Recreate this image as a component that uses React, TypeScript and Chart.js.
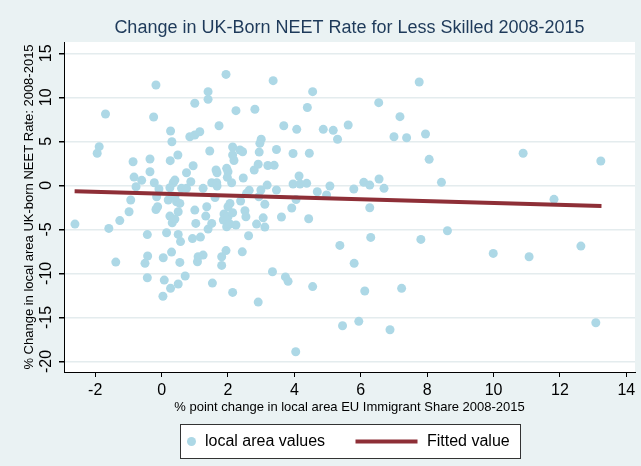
import React, { useEffect, useRef } from "react";
import { Chart, registerables } from "chart.js";

Chart.register(...registerables);

const TITLE = "Change in UK-Born NEET Rate for Less Skilled 2008-2015";
const X_TITLE = "% point change in local area EU Immigrant Share 2008-2015";
const Y_TITLE = "% Change in local area UK-born NEET Rate: 2008-2015";
const SERIES_POINTS = "local area values";
const SERIES_FIT = "Fitted value";

const X_TICKS = [-2, 0, 2, 4, 6, 8, 10, 12, 14];
const Y_TICKS = [-20, -15, -10, -5, 0, 5, 10, 15];

const AREA_X = [
  -2.61, -1.94, -1.88, -1.69, -1.59, -1.38, -1.26, -0.98, -0.93, -0.86,
  -0.83, -0.77, -0.6, -0.5, -0.43, -0.42, -0.43, -0.35, -0.35, -0.24,
  -0.22, -0.17, -0.15, -0.12, -0.17, -0.08, 0.04, 0.05, 0.08, 0.15,
  0.2, 0.25, 0.25, 0.26, 0.27, 0.27, 0.3, 0.31, 0.32, 0.33,
  0.35, 0.4, 0.4, 0.4, 0.45, 0.49, 0.5, 0.5, 0.5, 0.55,
  0.57, 0.55, 0.6, 0.71, 0.75, 0.75, 0.85, 0.88, 0.93, 0.95,
  1.0, 1.0, 1.0, 1.03, 1.08, 1.1, 1.15, 1.17, 1.25, 1.25,
  1.33, 1.36, 1.4, 1.4, 1.4, 1.45, 1.51, 1.51, 1.53, 1.61,
  1.64, 1.67, 1.66, 1.67, 1.73, 1.81, 1.81, 1.88, 1.86, 1.94,
  1.94, 1.96, 2.0, 1.98, 1.96, 2.0, 2.0, 2.06, 2.06, 2.11,
  2.14, 2.14, 2.18, 2.14, 2.14, 2.24, 2.24, 2.36, 2.44, 2.38,
  2.51, 2.54, 2.43, 2.46, 2.62, 2.64, 2.56, 2.79, 2.81, 2.86,
  2.91, 2.91, 2.93, 2.94, 2.96, 3.0, 2.99, 3.06, 3.11, 3.11,
  3.18, 3.2, 3.34, 3.36, 3.39, 3.46, 3.46, 3.61, 3.68, 3.73,
  3.81, 3.92, 3.96, 3.96, 4.04, 4.05, 4.07, 4.14, 4.17, 4.37,
  4.39, 4.43, 4.45, 4.55, 4.55, 4.69, 4.87, 4.97, 5.07, 5.17,
  5.3, 5.37, 5.45, 5.62, 5.79, 5.8, 5.94, 6.09, 6.12, 6.27,
  6.27, 6.3, 6.54, 6.55, 6.7, 6.88, 7.0, 7.18, 7.23, 7.38,
  7.76, 7.81, 7.95, 8.06, 8.43, 8.61, 9.99, 10.89, 11.07, 11.82,
  12.63, 13.08, 13.23,
];

const AREA_Y = [
  -4.4, 3.64, 4.39, 8.1, -4.89, -8.72, -4.0, -3.0, -1.67, 2.68,
  0.94, -0.16, 0.57, -8.86, -5.59, -8.03, -10.5, 2.99, 1.55, 7.76,
  0.3, 11.4, -1.3, -2.43, -2.75, -0.42, -12.6, -8.23, -10.76, -5.39,
  -1.67, -0.27, -3.49, 2.8, 6.17, -11.7, -7.58, 4.95, -4.25, -1.22,
  0.3, 0.6, -1.3, -3.83, -1.86, 3.44, -3.0, -5.57, -11.2, -2.05,
  -6.39, -8.75, -0.34, -10.3, 1.43, -0.34, 5.52, 0.41, -6.05, 2.23,
  9.32, 5.72, -2.81, -4.32, -8.68, -8.11, 6.09, -5.88, -7.92, -0.34,
  -3.49, -2.43, 10.64, 9.77, -4.97, 3.9, -4.32, 0.3, -11.1, -1.39,
  1.74, 1.43, 0.3, -0.08, 6.77, -8.11, -9.09, -3.26, -3.94, 12.6,
  -7.41, 1.93, 1.55, 0.91, -4.7, -2.43, -3.57, -2.05, -4.4, 0.3,
  4.35, 3.44, 2.82, -3.11, -12.16, 8.48, -4.51, 4.01, 3.82, -1.78,
  -2.89, -3.57, -7.55, 0.83, -5.73, -0.57, -0.91, 1.74, 8.64, -4.4,
  2.39, -13.26, -1.3, 3.78, 4.77, 5.23, -0.53, -3.69, -2.15, -4.74,
  0.03, 2.25, -9.82, 11.89, 2.27, 4.07, -0.53, -3.6, 6.77, -10.4,
  -10.9, -2.58, 3.61, 0.15, -18.9, -1.61, 6.36, 1.06, 0.15, 0.23,
  8.84, -3.8, 3.64, 10.64, -11.5, -0.73, 6.36, -1.1, -0.08, 6.25,
  5.23, -6.82, -15.95, 6.85, -0.42, -8.86, -15.45, 0.34, -12.0, 0.03,
  -2.55, -5.91, 9.39, 0.72, -0.34, -16.4, 5.52, 7.8, -11.7, 5.41,
  11.74, -6.14, 5.83, 2.95, 0.34, -5.16, -7.73, 3.64, -8.11, -1.59,
  -6.9, -15.6, 2.76,
];

const FIT_X = [-2.62, 13.25];
const FIT_Y = [-0.68, -2.35];

const FONT = "'Liberation Sans', Arial, Helvetica, sans-serif";
const BG = "#EAF2F3";
const POINT_COLOR = "#ADD8E6";
const FIT_COLOR = "#8E2F37";
const GRID = "#E4ECEE";

const backgroundPlugin = {
  id: "stataBackground",
  beforeDraw(chart: any) {
    const { ctx, chartArea } = chart;
    ctx.save();
    ctx.fillStyle = BG;
    ctx.fillRect(0, 0, chart.width, chart.height);
    ctx.fillStyle = "#FFFFFF";
    ctx.fillRect(chartArea.left, chartArea.top, chartArea.right - chartArea.left, chartArea.bottom - chartArea.top);
    ctx.restore();
  },
};

const legendPlugin = {
  id: "stataLegend",
  afterDraw(chart: any) {
    const { ctx, chartArea } = chart;
    const cx = (chartArea.left + chartArea.right) / 2;
    const boxW = 340;
    const boxH = 34;
    const left = Math.round(cx - boxW / 2) + 0.5;
    const top = chartArea.bottom + 52.5;
    const midY = top + boxH / 2;
    ctx.save();
    ctx.fillStyle = "#FFFFFF";
    ctx.fillRect(left, top, boxW, boxH);
    ctx.strokeStyle = "#333333";
    ctx.lineWidth = 1;
    ctx.strokeRect(left, top, boxW, boxH);
    const dsPts = chart.data.datasets[1];
    const dsFit = chart.data.datasets[0];
    ctx.fillStyle = dsPts.backgroundColor;
    ctx.beginPath();
    ctx.arc(left + 11, midY, 4.5, 0, Math.PI * 2);
    ctx.fill();
    ctx.font = `16px ${FONT}`;
    ctx.fillStyle = "#000000";
    ctx.textBaseline = "middle";
    ctx.textAlign = "left";
    ctx.fillText(dsPts.label, left + 24.5, midY);
    ctx.strokeStyle = dsFit.borderColor;
    ctx.lineWidth = 4;
    ctx.beginPath();
    ctx.moveTo(left + 175, midY);
    ctx.lineTo(left + 237, midY);
    ctx.stroke();
    ctx.fillText(dsFit.label, left + 246.5, midY);
    ctx.restore();
  },
};

export default function App() {
  const canvasRef = useRef<HTMLCanvasElement | null>(null);

  useEffect(() => {
    const canvas = canvasRef.current;
    if (!canvas) return;
    const chart = new Chart(canvas, {
      type: "scatter",
      data: {
        datasets: [
          {
            type: "line",
            label: SERIES_FIT,
            data: FIT_X.map((x, i) => ({ x, y: FIT_Y[i] })),
            borderColor: FIT_COLOR,
            backgroundColor: FIT_COLOR,
            borderWidth: 4,
            pointRadius: 0,
            fill: false,
            order: 0,
          } as any,
          {
            type: "scatter",
            label: SERIES_POINTS,
            data: AREA_X.map((x, i) => ({ x, y: AREA_Y[i] })),
            backgroundColor: POINT_COLOR,
            borderWidth: 0,
            pointRadius: 4.5,
            pointHoverRadius: 4.5,
            order: 1,
          },
        ],
      },
      options: {
        responsive: false,
        animation: false,
        events: [],
        layout: { padding: { left: 0, right: 6, top: 0, bottom: 50 } },
        plugins: {
          legend: { display: false },
          tooltip: { enabled: false },
          title: {
            display: true,
            text: TITLE,
            fullSize: false,
            color: "#1E3A5A",
            font: { family: FONT, size: 18, weight: "normal" },
            padding: { top: 17, bottom: 3.4 },
          },
        },
        scales: {
          x: {
            type: "linear",
            min: -2.94,
            max: 14.26,
            afterFit: (s: any) => {
              s.height = 44;
            },
            afterBuildTicks: (s: any) => {
              s.ticks = X_TICKS.map((v) => ({ value: v }));
            },
            border: { display: true, color: "#000000", width: 1 },
            grid: {
              display: true,
              drawOnChartArea: false,
              drawTicks: true,
              tickLength: 5,
              tickColor: "#000000",
            },
            ticks: {
              color: "#000000",
              font: { family: FONT, size: 16 },
              padding: 4,
              autoSkip: false,
              maxRotation: 0,
              minRotation: 0,
            },
            title: {
              display: true,
              text: X_TITLE,
              color: "#000000",
              font: { family: FONT, size: 13 },
              padding: { top: 0, bottom: 0.5 },
            },
          },
          y: {
            type: "linear",
            min: -21.2,
            max: 16.28,
            afterFit: (s: any) => {
              s.width = 64;
            },
            afterBuildTicks: (s: any) => {
              s.ticks = Y_TICKS.map((v) => ({ value: v }));
            },
            border: { display: true, color: "#000000", width: 1 },
            grid: {
              display: true,
              drawOnChartArea: true,
              color: GRID,
              lineWidth: 1.5,
              drawTicks: true,
              tickLength: 5,
              tickColor: "#000000",
            },
            ticks: {
              color: "#000000",
              font: { family: FONT, size: 16 },
              padding: 1,
              autoSkip: false,
              minRotation: 90,
              maxRotation: 90,
              crossAlign: "center",
            },
            title: {
              display: true,
              text: Y_TITLE,
              color: "#000000",
              font: { family: FONT, size: 13 },
              padding: { top: 22, bottom: 0 },
            },
          },
        },
      },
      plugins: [backgroundPlugin, legendPlugin],
    });
    return () => chart.destroy();
  }, []);

  return (
    <div style={{ position: "fixed", left: 0, top: 0, width: 641, height: 466, background: BG }}>
      <canvas ref={canvasRef} width={641} height={466} style={{ display: "block" }} />
    </div>
  );
}
